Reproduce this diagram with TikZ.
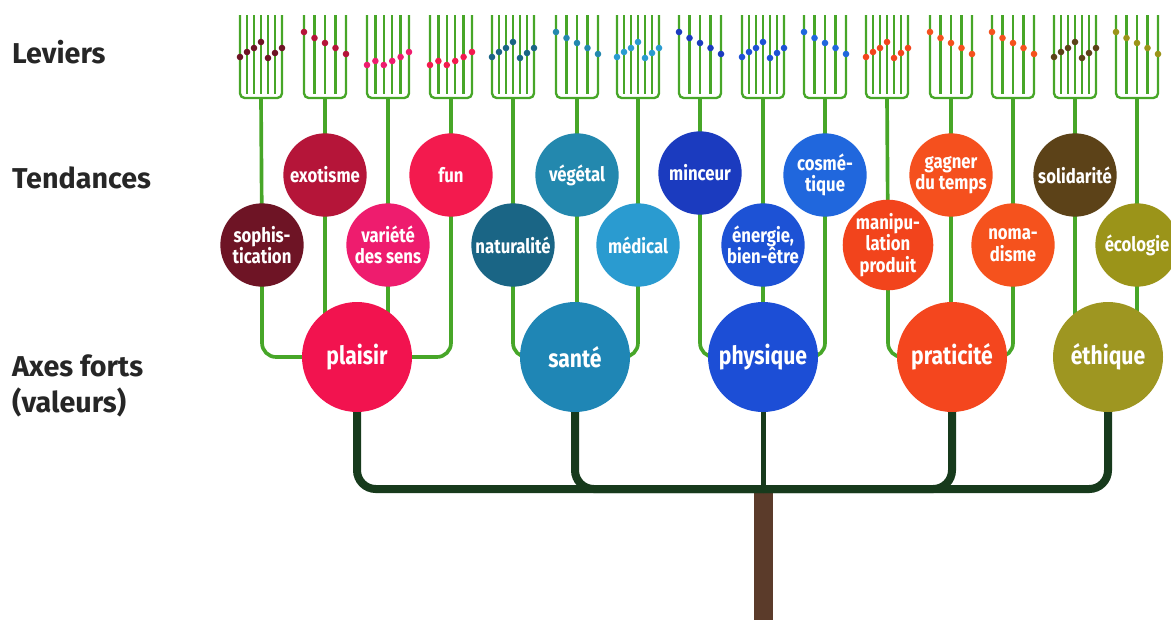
\documentclass[tikz,border=0pt]{standalone}
\usepackage{fontspec}
\setmainfont{Fira Sans}
\newfontfamily\bullefont[FakeStretch=0.84]{Fira Sans}
\usetikzlibrary{backgrounds}

\definecolor{vertlevier}{HTML}{47A628}
\definecolor{vertfonce}{HTML}{173A1C}
\definecolor{tronc}{HTML}{5B3B2A}
\definecolor{cSoph}{HTML}{6E1425}
\definecolor{cExo}{HTML}{B51539}
\definecolor{cVar}{HTML}{EE1C6E}
\definecolor{cFun}{HTML}{F31A4E}
\definecolor{cPlaisir}{HTML}{F2134F}
\definecolor{cNat}{HTML}{1A6585}
\definecolor{cVeg}{HTML}{2388AE}
\definecolor{cMed}{HTML}{2A9BD0}
\definecolor{cSante}{HTML}{1F86B5}
\definecolor{cMinc}{HTML}{1B3BBF}
\definecolor{cEner}{HTML}{1D52D5}
\definecolor{cCosm}{HTML}{2067DD}
\definecolor{cPhys}{HTML}{1C4ED6}
\definecolor{cManip}{HTML}{F2441C}
\definecolor{cGagn}{HTML}{F5501E}
\definecolor{cNoma}{HTML}{F5521D}
\definecolor{cPrat}{HTML}{F4461E}
\definecolor{cSoli}{HTML}{5C4218}
\definecolor{cEco}{HTML}{9B9419}
\definecolor{cEthi}{HTML}{9E9621}

\tikzset{
  tine/.style={vertlevier, line width=0.7mm},
  tige/.style={vertlevier, line width=1.1mm, rounded corners=12pt},
  branche/.style={vertfonce, line width=2.4mm, rounded corners=16pt},
  tendance/.style={circle, fill=#1, minimum size=25mm, inner sep=0pt, text=white,
    align=center, font=\bullefont\bfseries\fontsize{17}{18.5}\selectfont},
  axe/.style={circle, fill=#1, minimum size=33mm, inner sep=0pt, text=white,
    font=\bullefont\bfseries\fontsize{21.5}{24}\selectfont},
  titre/.style={anchor=west, align=left, inner sep=0pt, text=black!85,
    font=\bfseries\fontsize{24.5}{31}\selectfont}
}

% levier: centre x, nombre de dents, hauteurs des points, couleur
\newcommand{\levier}[4]{%
  \draw[tine, rounded corners=4pt] (#1-21,15) -- (#1-21,98) -- (#1+21,98) -- (#1+21,15);
  \foreach \y [count=\i from 0] in {#3}{
    \draw[tine] ({#1-21+\i*42/(#2-1)},15) -- ({#1-21+\i*42/(#2-1)},94);
    \fill[#4] ({#1-21+\i*42/(#2-1)},\y) circle (3.3);
  }
  \coordinate (f#1) at (#1,98);
}

\begin{document}
\begin{tikzpicture}[x=0.3mm, y=-0.3mm]
\clip (0,0) rectangle (1171,619);

% titres des niveaux
\node[titre] (leviers) at (12,52) {Leviers};
\node[titre] (tendances) at (12,178) {Tendances};
\node[titre] (axes) at (12,386) {Axes forts\\(valeurs)};

% leviers (fourches)
\levier{261}{7}{57,52,48,42,58,53,48}{cSoph}
\levier{325}{5}{32,38,43,48,54}{cExo}
\levier{388}{6}{65,61,65,61,57,52}{cVar}
\levier{451}{6}{65,61,65,61,57,52}{cFun}
\levier{513}{7}{57,52,48,42,58,53,48}{cNat}
\levier{577}{5}{32,38,43,48,54}{cVeg}
\levier{638}{7}{57,52,48,42,58,53,48}{cMed}
\levier{700}{5}{32,38,43,48,54}{cMinc}
\levier{763}{7}{57,52,48,42,58,53,48}{cEner}
\levier{825}{5}{32,38,43,48,54}{cCosm}
\levier{887}{7}{57,52,48,42,58,53,48}{cManip}
\levier{951}{5}{32,38,43,48,54}{cGagn}
\levier{1013}{5}{32,38,43,48,54}{cNoma}
\levier{1075}{7}{57,52,48,42,58,53,48}{cSoli}
\levier{1137}{5}{32,38,43,48,54}{cEco}

% tendances, rang du haut
\node[tendance=cExo] (exo) at (325,175) {exotisme};
\node[tendance=cFun] (fun) at (451,175) {fun};
\node[tendance=cVeg] (veg) at (577,175) {végétal};
\node[tendance=cMinc] (minc) at (700,173) {minceur};
\node[tendance=cCosm] (cosm) at (825,175) {cosmé-\\tique};
\node[tendance=cGagn] (gagn) at (951,175) {gagner\\du temps};
\node[tendance=cSoli] (soli) at (1075,175) {solidarité};
% tendances, rang du bas
\node[tendance=cSoph] (soph) at (262,245) {sophis-\\tication};
\node[tendance=cVar] (var) at (388,245) {variété\\des sens};
\node[tendance=cNat] (nat) at (513,245) {naturalité};
\node[tendance=cMed] (med) at (638,245) {médical};
\node[tendance=cEner] (ener) at (763,245) {énergie,\\bien-être};
\node[tendance=cManip] (manip) at (888,245) {manipu-\\lation\\produit};
\node[tendance=cNoma] (noma) at (1013,245) {noma-\\disme};
\node[tendance=cEco] (eco) at (1137,245) {écologie};

% axes forts
\node[axe=cPlaisir] (plaisir) at (357,357) {plaisir};
\node[axe=cSante] (sante) at (575,357) {santé};
\node[axe=cPhys] (physique) at (763,357) {physique};
\node[axe=cPrat] (prat) at (952,357) {praticité};
\node[axe=cEthi] (ethique) at (1108,357) {éthique};

% tronc
\coordinate (noeud) at (763,489);
\coordinate (pied) at (763,630);

\begin{pgfonlayer}{background}
% tiges vertes: levier -> tendance -> axe
\draw[tige] (f261) -- (soph.center) |- (plaisir.center);
\draw[tige] (f325) -- (exo.center) |- (plaisir.center);
\draw[tige] (f388) -- (var.center) |- (plaisir.center);
\draw[tige] (f451) -- (fun.center) |- (plaisir.center);
\draw[tige] (f513) -- (nat.center) |- (sante.center);
\draw[tige] (f577) -- (veg.center) |- (sante.center);
\draw[tige] (f638) -- (med.center) |- (sante.center);
\draw[tige] (f700) -- (minc.center) |- (physique.center);
\draw[tige] (f763) -- (ener.center) -- (physique.center);
\draw[tige] (f825) -- (cosm.center) |- (physique.center);
\draw[tige] (f887) -- (manip.center) |- (prat.center);
\draw[tige] (f951) -- (gagn.center) |- (prat.center);
\draw[tige] (f1013) -- (noma.center) |- (prat.center);
\draw[tige] (f1075) -- (soli.center) |- (ethique.center);
\draw[tige] (f1137) -- (eco.center) |- (ethique.center);
% branches vert fonce et tronc
\draw[tronc, line width=5.7mm] (noeud) -- (pied);
\draw[branche] (plaisir.center) |- (noeud);
\draw[branche] (sante.center) |- (noeud);
\draw[branche] (prat.center) |- (noeud);
\draw[branche] (ethique.center) |- (noeud);
\draw[vertfonce, line width=1.5mm] (physique.center) -- (noeud);
\end{pgfonlayer}
\end{tikzpicture}
\end{document}
